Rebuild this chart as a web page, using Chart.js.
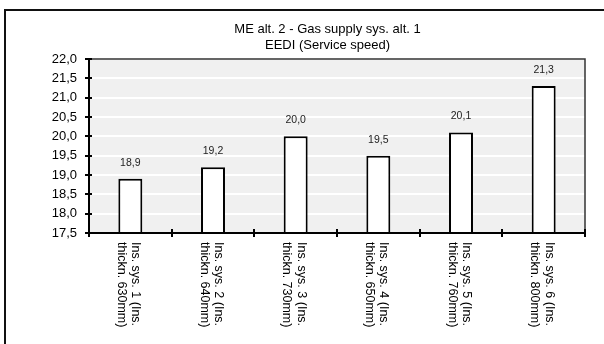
<!DOCTYPE html>
<html>
<head>
<meta charset="utf-8">
<script src="https://cdn.jsdelivr.net/npm/chart.js@4.4.1/dist/chart.umd.min.js"></script>
<style>
  html, body { margin: 0; padding: 0; background: #fff; }
  #wrap { width: 604px; height: 344px; }
</style>
</head>
<body>
<div id="wrap"><canvas id="eedi" width="604" height="344"></canvas></div>
<script>
const titleLines = ['ME alt. 2 - Gas supply sys. alt. 1', 'EEDI (Service speed)'];
const categories = [
  ['Ins. sys. 1 (Ins.', 'thickn. 630mm)'],
  ['Ins. sys. 2 (Ins.', 'thickn. 640mm)'],
  ['Ins. sys. 3 (Ins.', 'thickn. 730mm)'],
  ['Ins. sys. 4 (Ins.', 'thickn. 650mm)'],
  ['Ins. sys. 5 (Ins.', 'thickn. 760mm)'],
  ['Ins. sys. 6 (Ins.', 'thickn. 800mm)'],
];
const eediValues = [18.9, 19.2, 20.0, 19.5, 20.1, 21.3];
const yMin = 17.5;
const yMax = 22.0;
const yStep = 0.5;

const FONT = 'Liberation Sans, Arial, sans-serif';
const fmt = (v) => v.toFixed(1).replace('.', ',');

// frame, title, plot background and the crossing tick marks
const decor = {
  id: 'decor',
  beforeDraw(chart) {
    const { ctx, chartArea: a } = chart;
    ctx.save();
    ctx.fillStyle = '#f0f0f0';
    ctx.fillRect(a.left, a.top, a.right - a.left, a.bottom - a.top);

    ctx.strokeStyle = '#111';
    ctx.lineWidth = 2;
    ctx.beginPath();
    ctx.moveTo(5, 344);
    ctx.lineTo(5, 10);
    ctx.lineTo(604, 10);
    ctx.stroke();

    ctx.fillStyle = '#000';
    ctx.font = '13px ' + FONT;
    ctx.textAlign = 'center';
    ctx.textBaseline = 'middle';
    ctx.fillText(titleLines[0], 327.5, 29);
    ctx.fillText(titleLines[1], 327.5, 45);
    ctx.restore();
  },
  afterDatasetsDraw(chart) {
    const { ctx, chartArea: a, scales } = chart;
    ctx.save();

    // value labels above the bars
    const meta = chart.getDatasetMeta(0);
    ctx.fillStyle = '#222';
    ctx.font = '10.5px ' + FONT;
    ctx.textAlign = 'center';
    ctx.textBaseline = 'middle';
    meta.data.forEach((bar, i) => {
      ctx.fillText(fmt(eediValues[i]), bar.x, bar.y - 16);
    });

    // plot border
    ctx.strokeStyle = '#333';
    ctx.lineWidth = 1.5;
    ctx.strokeRect(a.left, a.top, a.right - a.left, a.bottom - a.top);

    // axes
    ctx.strokeStyle = '#000';
    ctx.lineWidth = 2;
    ctx.beginPath();
    ctx.moveTo(a.left, a.top);
    ctx.lineTo(a.left, a.bottom);
    ctx.lineTo(a.right, a.bottom);
    ctx.stroke();

    // y ticks crossing the axis
    ctx.beginPath();
    scales.y.ticks.forEach((t) => {
      const y = Math.round(scales.y.getPixelForValue(t.value));
      ctx.moveTo(a.left - 4, y);
      ctx.lineTo(a.left + 3, y);
    });
    // x ticks at category boundaries
    const n = categories.length;
    const step = (a.right - a.left) / n;
    for (let i = 0; i <= n; i++) {
      const x = Math.round(a.left + i * step);
      ctx.moveTo(x, a.bottom - 4);
      ctx.lineTo(x, a.bottom + 4);
    }
    ctx.stroke();

    // rotated category labels, reading top to bottom
    ctx.fillStyle = '#000';
    ctx.font = '12.5px ' + FONT;
    ctx.textAlign = 'left';
    ctx.textBaseline = 'middle';
    categories.forEach((lines, i) => {
      const x = scales.x.getPixelForValue(i);
      ctx.save();
      ctx.translate(x, a.bottom + 9);
      ctx.rotate(Math.PI / 2);
      ctx.fillText(lines[0], 0, -5.5);
      ctx.fillText(lines[1], 0, 9);
      ctx.restore();
    });
    ctx.restore();
  },
};

new Chart(document.getElementById('eedi'), {
  type: 'bar',
  data: {
    labels: categories.map((c) => c.join(' ')),
    datasets: [
      {
        data: eediValues,
        backgroundColor: '#ffffff',
        borderColor: '#000000',
        borderWidth: 2,
        borderSkipped: false,
        barPercentage: 0.29,
        categoryPercentage: 1,
      },
    ],
  },
  options: {
    responsive: false,
    animation: false,
    devicePixelRatio: 1,
    layout: {
      padding: { left: 0, top: 59, right: 19, bottom: 0 },
    },
    plugins: {
      legend: { display: false },
      title: { display: false },
      tooltip: { enabled: false },
    },
    scales: {
      x: {
        ticks: { display: false },
        grid: { display: false },
        border: { display: false },
        afterFit: (scale) => {
          scale.height = 111;
        },
      },
      y: {
        min: yMin,
        max: yMax,
        ticks: {
          stepSize: yStep,
          color: '#000',
          padding: 12,
          font: { family: FONT, size: 13 },
          callback: (v) => fmt(v),
        },
        grid: {
          color: '#ffffff',
          lineWidth: 2,
          drawTicks: false,
        },
        border: { display: false },
        afterFit: (scale) => {
          scale.width = 89;
        },
      },
    },
  },
  plugins: [decor],
});
</script>
</body>
</html>
